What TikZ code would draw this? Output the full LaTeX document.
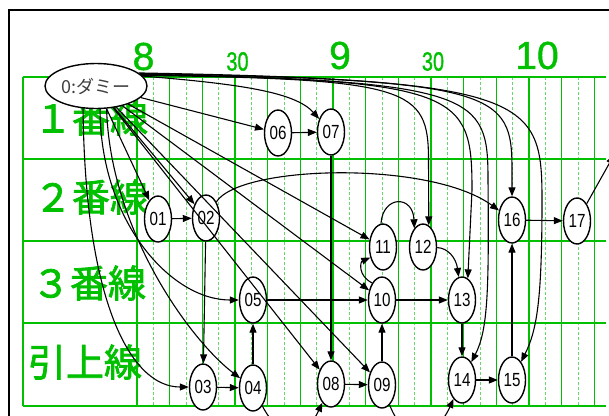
\documentclass[tikz,border=0pt]{standalone}
\usepackage{fontspec}
\setmainfont{Liberation Sans}
\newfontfamily\jp{Noto Sans CJK JP}
\newfontfamily\jpb[FakeBold=2]{Noto Sans CJK JP}
\newfontfamily\hrf[FakeBold=1.2]{Liberation Sans}
\usetikzlibrary{arrows.meta,shapes.geometric}
\definecolor{grn}{RGB}{0,192,0}
\newcommand\nlab[1]{\scalebox{0.8}[1]{#1}}
\begin{document}
\begin{tikzpicture}[x=1pt,y=1pt,
  gmain/.style={grn, line width=2pt},
  ghour/.style={grn, line width=2pt},
  gsolid/.style={grn, line width=1.2pt},
  gdash/.style={grn!60, line width=1pt, dash pattern=on 3pt off 2pt},
  st/.style={draw, ellipse, line width=1.4pt, minimum width=27pt, minimum height=46pt, inner sep=0pt, fill=white, font=\fontsize{19}{19}\selectfont},
  dummy/.style={draw, ellipse, line width=1.4pt, minimum width=102pt, minimum height=45pt, inner sep=0pt, fill=white, text=black!75, font=\jp\fontsize{18}{18}\selectfont},
  arr/.style={line width=1.1pt, -{Triangle[length=9pt,width=7pt]}},
  rowlab/.style={grn, font=\jpb\fontsize{38}{38}\selectfont, inner sep=0pt},
  hourlab/.style={grn, font=\hrf\fontsize{39}{39}\selectfont, inner sep=0pt},
  minlab/.style={grn, font=\hrf\fontsize{26.5}{26.5}\selectfont, inner sep=0pt}
]
\useasboundingbox (0,0) rectangle (609,-415);
\begin{scope}
\clip (0,0) rectangle (609,-415);
% frame
\draw[line width=2pt] (9,-416) -- (9,-10) -- (610,-10);
% grid
\foreach \k in {0,...,28}{
  \pgfmathsetmacro{\xx}{137+16.333*\k}
  \ifodd\k
    \draw[gdash] (\xx,-77) -- (\xx,-406);
  \else
    \draw[gsolid] (\xx,-77) -- (\xx,-406);
  \fi
}
\foreach \k in {0,12,24}{
  \pgfmathsetmacro{\xx}{137+16.333*\k}
  \draw[ghour] (\xx,-77) -- (\xx,-406);
}
\draw[gsolid] (23,-77) -- (23,-406);
\foreach \yy in {77,159,241,323,406}{
  \draw[gmain] (23,-\yy) -- (606,-\yy);
}
% labels
\node[hourlab] (t8) at (143.5,-56.5) {8};
\node[minlab] (t830) at (237.5,-61.5) {\scalebox{0.75}[1]{30}};
\node[hourlab] (t9) at (340,-55.5) {9};
\node[minlab] (t930) at (433,-61.5) {\scalebox{0.75}[1]{30}};
\node[hourlab] (t10) at (537,-55.5) {10};
\node[rowlab] (r1) at (91,-118) {１番線};
\node[rowlab] (r2) at (91,-197) {２番線};
\node[rowlab] (r3) at (89,-283) {３番線};
\node[rowlab] (r4) at (85,-362) {引上線};
% nodes
\node[dummy] (d) at (96,-86) {0:ダミー};
\node[st] (n06) at (278,-133) {\nlab{06}};
\node[st] (n07) at (331,-132) {\nlab{07}};
\node[st] (n01) at (158,-219) {\nlab{01}};
\node[st] (n02) at (206,-218) {\nlab{02}};
\node[st] (n16) at (512,-220) {\nlab{16}};
\node[st] (n17) at (577,-221) {\nlab{17}};
\node[st] (n11) at (383,-247) {\nlab{11}};
\node[st] (n12) at (423,-247) {\nlab{12}};
\node[st] (n05) at (253,-300) {\nlab{05}};
\node[st] (n10) at (382,-300) {\nlab{10}};
\node[st] (n13) at (462,-300) {\nlab{13}};
\node[st] (n03) at (203,-387) {\nlab{03}};
\node[st] (n04) at (253,-388) {\nlab{04}};
\node[st] (n08) at (331,-384) {\nlab{08}};
\node[st] (n09) at (382,-385) {\nlab{09}};
\node[st] (n14) at (462,-380) {\nlab{14}};
\node[st] (n15) at (512,-380) {\nlab{15}};
\coordinate (c17) at (614,-155);
% edges from dummy
\draw[arr] (d) -- (n06);
\draw[arr] (d.12) .. controls (240,-84) and (295,-92) .. (n07);
\draw[arr] (d) -- (n01);
\draw[arr] (d) -- (n02);
\draw[arr] (d) -- (n11);
\draw[arr] (d) -- (n10);
\draw[arr] (d) -- (n08);
\draw[arr] (d) -- (n09);
\draw[arr] (d.240) .. controls (85,-300) and (130,-387) .. (n03);
\draw[arr] (d.280) .. controls (100,-220) and (170,-300) .. (n05);
\draw[arr] (d.295) .. controls (110,-230) and (190,-340) .. (n04);
\draw[arr] (d.13) .. controls (410,-79) and (428.5,-88) .. (428.5,-160) -- (n12.75);
\draw[arr] (d.14) .. controls (460,-80) and (472,-92) .. (472,-190) -- (n13.75);
\draw[arr] (d.15) .. controls (478,-81) and (488,-95) .. (488,-180) .. controls (489,-290) and (488,-330) .. (n14);
\draw[arr] (d.16) .. controls (498,-80) and (512,-92) .. (512,-170) -- (n16);
\draw[arr] (d.17) .. controls (530,-80) and (542,-98) .. (542,-200) .. controls (542,-300) and (537,-330) .. (n15);
% other edges
\draw[arr] (n06) -- (n07);
\draw[arr] (n01) -- (n02);
\draw[arr] (n02) -- (n03);
\draw[arr] (n02) .. controls (240,-165) and (430,-160) .. (n16);
\draw[arr] (n03) -- (n04);
\draw[arr] (n04) -- (n05);
\draw[arr] (n05) -- (n10);
\draw[arr] (n07) -- (n08);
\draw[arr] (n08) -- (n09);
\draw[arr] (n09) -- (n10);
\draw[arr] (n10.120) .. controls (358,-276) and (360,-262) .. (n11.220);
\draw[arr] (n11.95) .. controls (383,-195) and (413,-195) .. (n12.115);
\draw[arr] (n12) .. controls (448,-248) and (456,-258) .. (n13);
\draw[arr] (n10) -- (n13);
\draw[arr] (n13) -- (n14);
\draw[arr] (n14) -- (n15);
\draw[arr] (n15) -- (n16);
\draw[arr] (n16) -- (n17);
\draw[arr] (n17) -- (c17);
\draw[arr] (n04) .. controls (280,-440) and (305,-440) .. (n08);
\draw[arr] (n09) .. controls (405,-445) and (435,-440) .. (n14);
\end{scope}
\end{tikzpicture}
\end{document}
